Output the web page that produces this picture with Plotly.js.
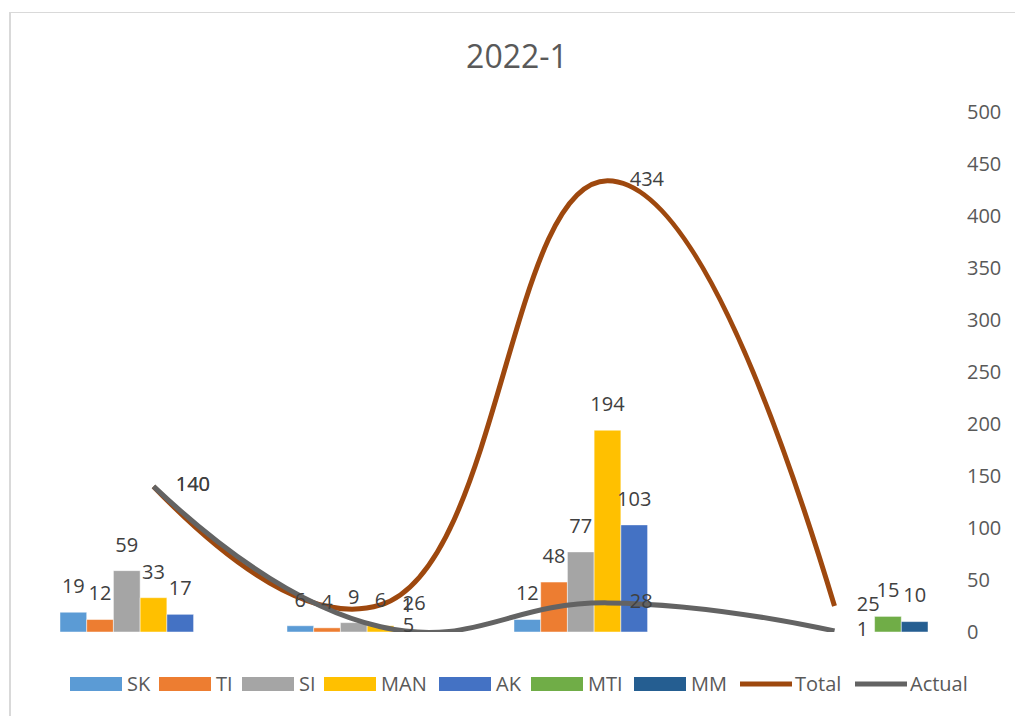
<!DOCTYPE html>
<html>
<head>
<meta charset="utf-8">
<script src="https://cdn.plot.ly/plotly-3.0.1.min.js"></script>
<style>
  html, body { margin: 0; padding: 0; background: #fff; overflow: hidden; }
  #chart { width: 1015px; height: 716px; }
  #frame { position: absolute; left: 9px; top: 12px; width: 1100px; height: 800px;
           border-left: 2px solid #d9d9d9; border-top: 1px solid #d9d9d9; pointer-events: none; }
</style>
</head>
<body>
<div id="chart"></div>
<div id="frame"></div>
<script>
// ---- data ----
const categories = ['1', '2', '3', '4'];
const SK  = [19, 6, 12, null];
const TI  = [12, 4, 48, null];
const SI  = [59, 9, 77, null];
const MAN = [33, 6, 194, null];
const AK  = [17, 1, 103, null];
const MTI = [null, null, null, 15];
const MM  = [null, null, null, 10];
const Total  = [140, 26, 434, 25];
const Actual = [140, 5, 28, 1];
const yTicks = [0, 50, 100, 150, 200, 250, 300, 350, 400, 450, 500];
const title = '2022-1';

const barSeries = [
  {name: 'SK', y: SK, color: '#5B9BD5'},
  {name: 'TI', y: TI, color: '#ED7D31'},
  {name: 'SI', y: SI, color: '#A5A5A5'},
  {name: 'MAN', y: MAN, color: '#FFC000'},
  {name: 'AK', y: AK, color: '#4472C4'},
  {name: 'MTI', y: MTI, color: '#70AD47'},
  {name: 'MM', y: MM, color: '#255E91'}
];
const lineSeries = [
  {name: 'Total', y: Total, color: '#9E480E'},
  {name: 'Actual', y: Actual, color: '#636363'}
];

// ---- layout geometry ----
const W = 1015, H = 716;
const M = {l: 40, r: 67, t: 112, b: 84};
const pw = W - M.l - M.r, ph = H - M.t - M.b;
const px = p => (p - M.l) / pw;
const py = p => (H - M.b - p) / ph;
const FONT = 'Open Sans, sans-serif';
const BARGAP = 0.176;
const nBars = barSeries.length;
const slot = (1 - BARGAP) / nBars;

const traces = [];
barSeries.forEach(s => {
  traces.push({
    type: 'bar', name: s.name, x: categories, y: s.y,
    marker: {color: s.color, line: {color: 'rgba(255,255,255,0.6)', width: 0.8}},
    showlegend: false, hoverinfo: 'skip'
  });
});
// bar value labels on an overlaid numeric axis aligned with the bar slots
barSeries.forEach((s, j) => {
  traces.push({
    type: 'scatter', mode: 'markers+text', xaxis: 'x2', yaxis: 'y',
    x: categories.map((c, i) => i + (j - (nBars - 1) / 2) * slot),
    y: s.y,
    text: s.y.map(v => v === null ? '' : String(v)),
    textposition: 'top center', cliponaxis: false,
    marker: {size: 21, color: 'rgba(0,0,0,0)'},
    textfont: {family: FONT, size: 20, color: '#404040'},
    showlegend: false, hoverinfo: 'skip'
  });
});
lineSeries.forEach(s => {
  traces.push({
    type: 'scatter', mode: 'lines+markers+text', name: s.name, x: categories, y: s.y,
    line: {color: s.color, width: 5, shape: 'spline', smoothing: 1.3},
    marker: {size: 34, color: 'rgba(0,0,0,0)'},
    text: s.y.map(String), textposition: 'middle right', cliponaxis: false,
    textfont: {family: FONT, size: 20, color: '#404040'},
    showlegend: false, hoverinfo: 'skip'
  });
});

// ---- custom legend (bottom) ----
const shapes = [], annotations = [];
const legendY = 684;
const legendStarts = [70, 159, 242, 324, 439, 531, 634, 738, 853];
const allSeries = barSeries.concat(lineSeries);
allSeries.forEach((s, i) => {
  const x0 = legendStarts[i];
  if (i < barSeries.length) {
    shapes.push({type: 'rect', xref: 'paper', yref: 'paper',
      x0: px(x0), x1: px(x0 + 52), y0: py(legendY + 7), y1: py(legendY - 7),
      fillcolor: s.color, line: {width: 0}});
  } else {
    shapes.push({type: 'line', xref: 'paper', yref: 'paper',
      x0: px(x0 + 2), x1: px(x0 + 54), y0: py(legendY), y1: py(legendY),
      line: {color: s.color, width: 5}});
  }
  annotations.push({xref: 'paper', yref: 'paper', x: px(x0 + 55), y: py(legendY - 1),
    xanchor: 'left', yanchor: 'middle', text: s.name, showarrow: false,
    font: {family: FONT, size: 20, color: '#595959'}});
});

const layout = {
  width: W, height: H,
  margin: M,
  paper_bgcolor: '#ffffff', plot_bgcolor: '#ffffff',
  barmode: 'group', bargap: BARGAP, bargroupgap: 0,
  showlegend: false,
  hovermode: false,
  title: {text: title, font: {family: FONT, size: 32, color: '#595959'},
          x: 517 / W, xanchor: 'center', y: 1 - 57 / H, yanchor: 'middle'},
  xaxis: {type: 'category', showticklabels: false, showgrid: false, zeroline: false,
          showline: false, ticks: '', range: [-0.5, 3.5]},
  xaxis2: {overlaying: 'x', range: [-0.5, 3.5], visible: false, showgrid: false, zeroline: false},
  yaxis: {side: 'right', range: [0, 500], tickvals: yTicks, showgrid: false,
          zeroline: false, showline: false, ticks: '', ticklabelstandoff: 18,
          tickfont: {family: FONT, size: 20, color: '#595959'}},
  shapes: shapes,
  annotations: annotations,
  font: {family: FONT}
};

Plotly.newPlot('chart', traces, layout, {displayModeBar: false, staticPlot: true});
</script>
</body>
</html>
